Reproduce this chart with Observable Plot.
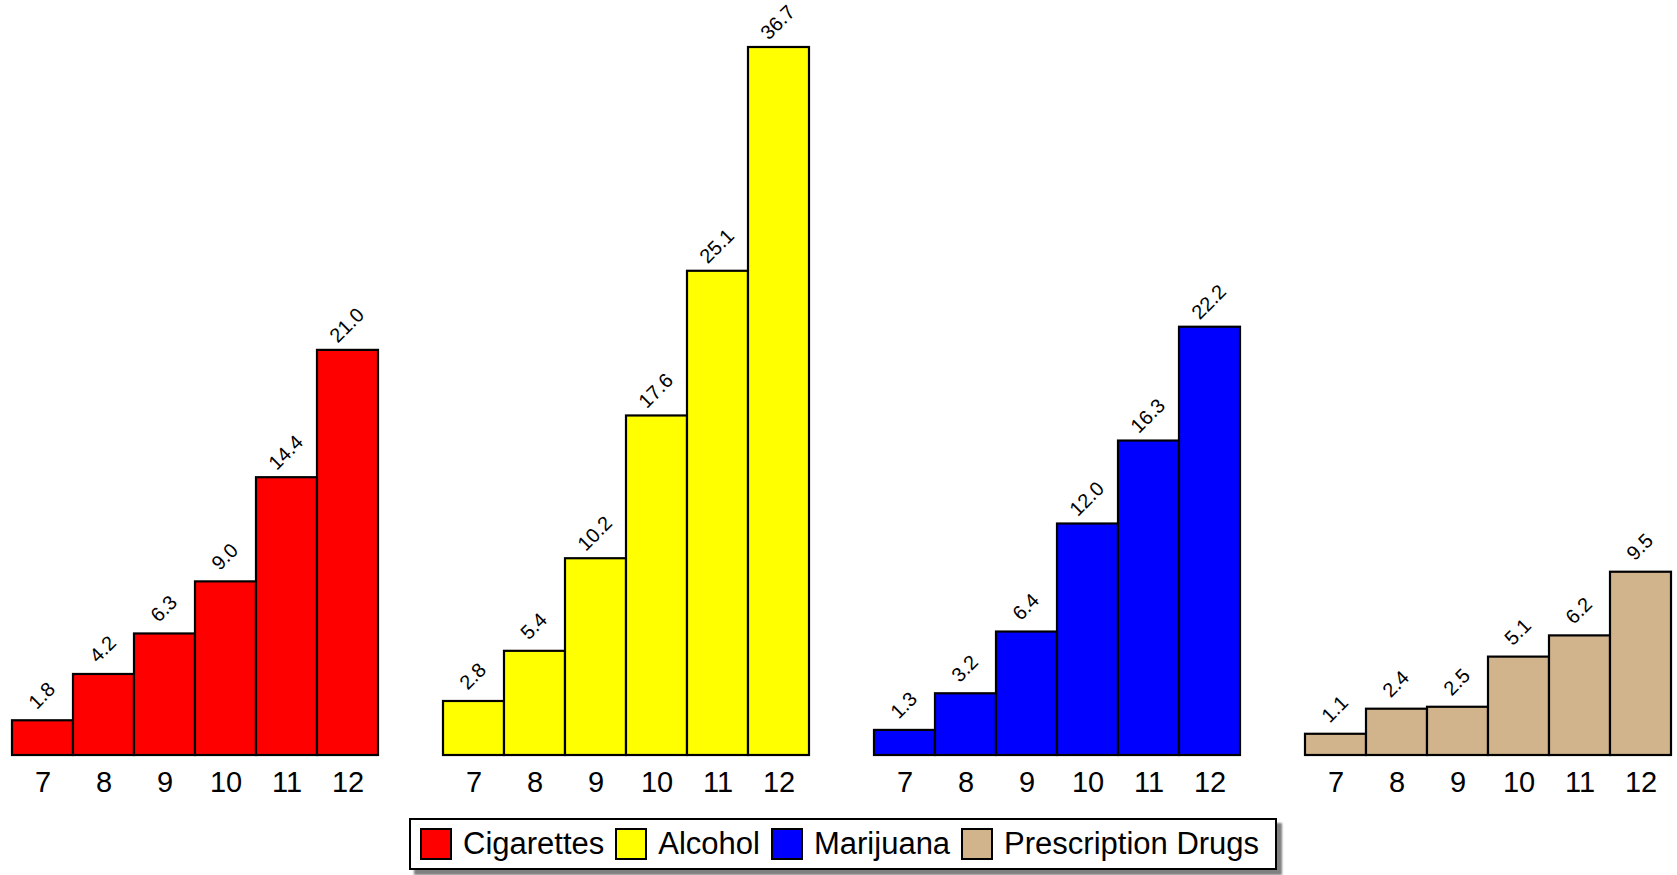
<!DOCTYPE html>
<html>
<head>
<meta charset="utf-8">
<script src="https://cdn.jsdelivr.net/npm/d3@7"></script>
<script src="https://cdn.jsdelivr.net/npm/@observablehq/plot@0.6"></script>
<style>
  html, body { margin: 0; padding: 0; background: #fff; }
  body { width: 1677px; height: 875px; position: relative; font-family: "Liberation Sans", Arial, sans-serif; }
  #chart svg { display: block; }
  #legend {
    position: absolute; left: 409px; top: 818px;
    box-sizing: border-box; width: 868px; height: 52px;
    border: 2px solid #000; background: #fff;
    box-shadow: 5px 5px 2px #808080;
    display: flex; align-items: center; padding-left: 9px;
    font-size: 31px; color: #000;
  }
  .item { display: flex; align-items: center; margin-right: 11px; }
  .sw { box-sizing: border-box; width: 32px; height: 32px; border: 2px solid #000; margin-right: 11px; }
</style>
</head>
<body>
<div id="chart"></div>
<div id="legend"></div>
<script>
const grades = ["7", "8", "9", "10", "11", "12"];
const substances = ["Cigarettes", "Alcohol", "Marijuana", "Prescription Drugs"];
const colors = ["#ff0000", "#ffff00", "#0000ff", "#d2b48c"];
const cigarettes = [1.8, 4.2, 6.3, 9.0, 14.4, 21.0];
const alcohol = [2.8, 5.4, 10.2, 17.6, 25.1, 36.7];
const marijuana = [1.3, 3.2, 6.4, 12.0, 16.3, 22.2];
const prescription = [1.1, 2.4, 2.5, 5.1, 6.2, 9.5];

const series = [cigarettes, alcohol, marijuana, prescription];
const data = [];
substances.forEach((s, i) => {
  grades.forEach((g, j) => data.push({substance: s, grade: g, value: series[i][j]}));
});

const chart = Plot.plot({
  width: 1677,
  height: 805,
  marginLeft: 9,
  marginRight: 3,
  marginTop: 47,
  marginBottom: 50,
  style: {fontFamily: "'Liberation Sans', Arial, sans-serif", fontSize: "29px", color: "#000", background: "#fff"},
  fx: {domain: substances, paddingInner: 0.1415, paddingOuter: 0, axis: null, label: null},
  x: {domain: grades, padding: 0, tickSize: 0, tickPadding: 16, label: null},
  y: {domain: [0, 36.7], axis: null},
  color: {domain: substances, range: colors},
  marks: [
    Plot.barY(data, {fx: "substance", x: "grade", y: "value", fill: "substance", stroke: "black", strokeWidth: 2.2}),
    Plot.text(data, {fx: "substance", x: "grade", y: "value", text: d => d.value.toFixed(1), rotate: -45, dy: -25, dx: -1, fontSize: 20, fill: "black"})
  ]
});
document.getElementById("chart").appendChild(chart);

const legend = document.getElementById("legend");
substances.forEach((s, i) => {
  const item = document.createElement("div");
  item.className = "item";
  const sw = document.createElement("div");
  sw.className = "sw";
  sw.style.background = colors[i];
  const label = document.createElement("span");
  label.textContent = s;
  item.appendChild(sw);
  item.appendChild(label);
  legend.appendChild(item);
});
</script>
</body>
</html>
